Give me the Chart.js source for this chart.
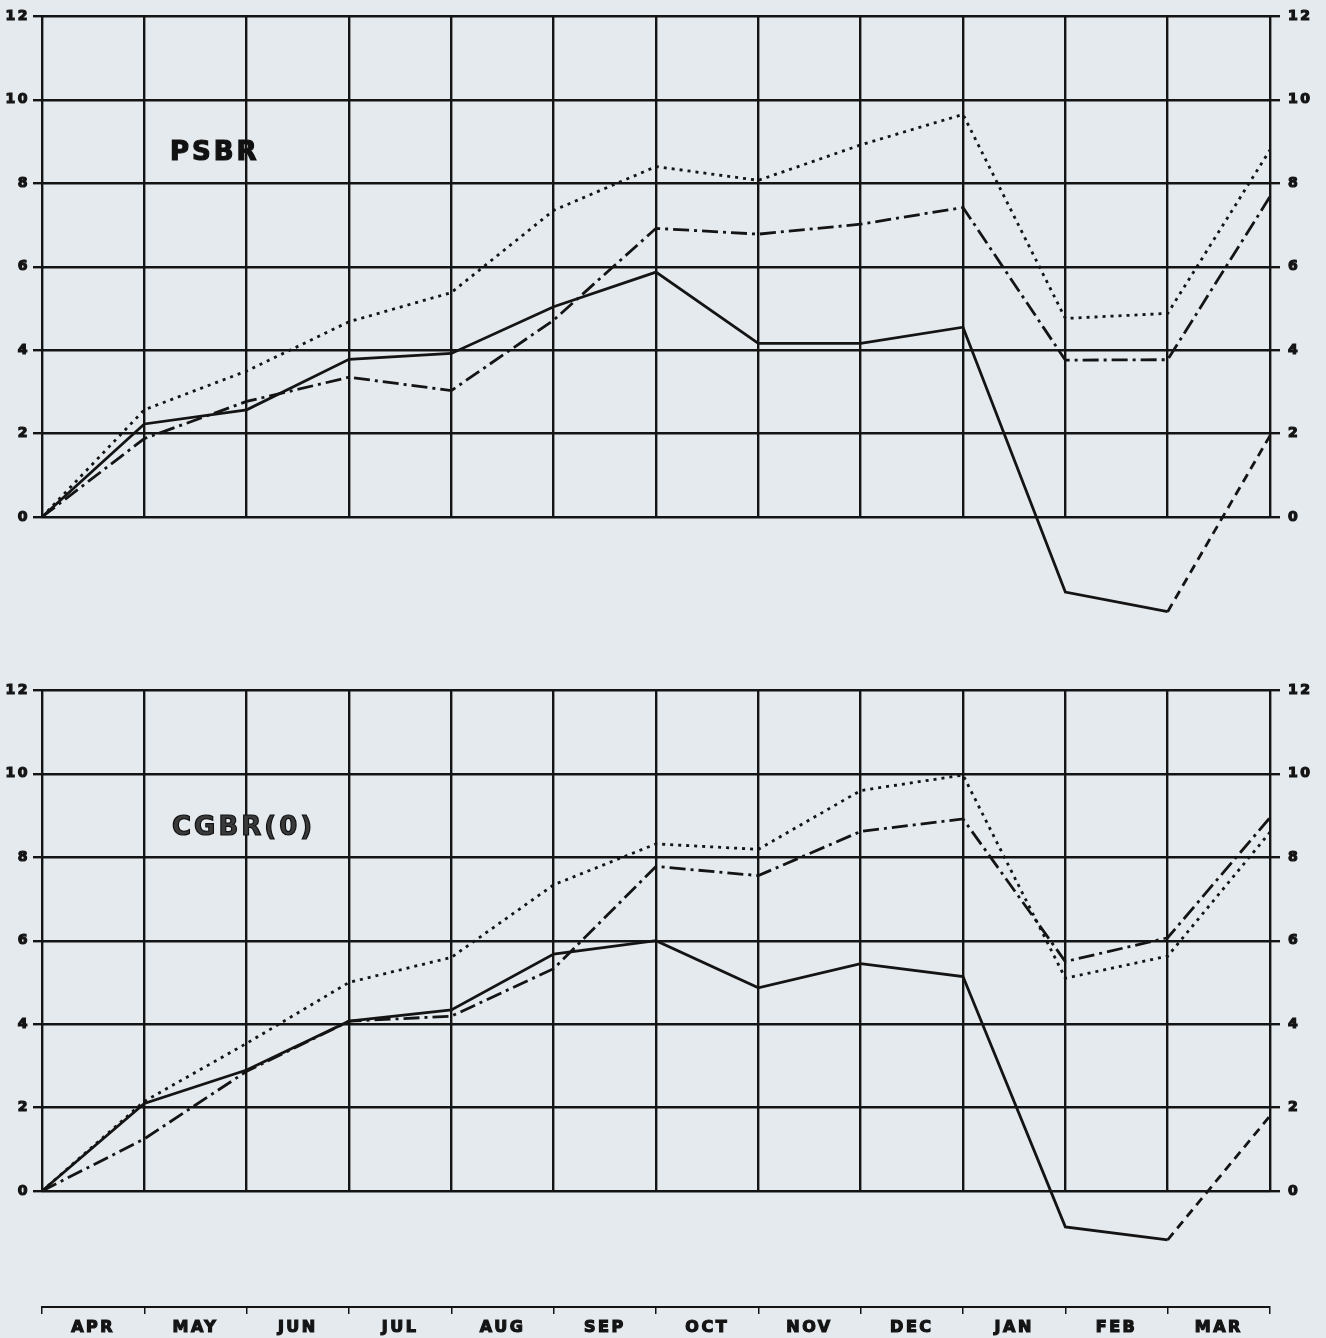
<!DOCTYPE html>
<html>
<head>
<meta charset="utf-8">
<script src="https://cdn.jsdelivr.net/npm/chart.js@4.4.1/dist/chart.umd.min.js"></script>
<style>
  html, body { margin: 0; padding: 0; background: #e4eaee; }
  #wrap { position: relative; width: 1326px; height: 1338px; overflow: hidden; background: #e4eaee; }
  .box { position: absolute; left: 0; width: 1326px; }
  .lbl { position: absolute; font-family: "DejaVu Sans", sans-serif; font-weight: bold; font-size: 26px;
         letter-spacing: 3px; color: #111; line-height: 1; -webkit-text-stroke: 1.2px #111; }
</style>
</head>
<body>
<div id="wrap">
  <div class="box" style="top:0px;height:620px;"><canvas id="c1"></canvas></div>
  <div class="box" style="top:674px;height:620px;"><canvas id="c2"></canvas></div>
  <div class="box" style="top:1290px;height:48px;"><canvas id="c3"></canvas></div>
  <div class="lbl" style="left:170px;top:138px;">PSBR</div>
  <div class="lbl" style="left:172px;top:813px;color:#3a3a3a;">CGBR(0)</div>
</div>
<script>
// ---- data ----
const months = ['APR','MAY','JUN','JUL','AUG','SEP','OCT','NOV','DEC','JAN','FEB','MAR'];
// month boundaries (start of APR ... end of MAR)
const boundaries = [0,1,2,3,4,5,6,7,8,9,10,11,12];
const yTickValues = [0,2,4,6,8,10,12];

const psbrSolid   = [0, 2.23, 2.57, 3.78, 3.92, 5.04, 5.87, 4.16, 4.16, 4.55, -1.80, -2.27, 1.95];
const psbrDashDot = [0, 1.88, 2.77, 3.35, 3.03, 4.72, 6.92, 6.78, 7.02, 7.42, 3.76, 3.77, 7.68];
const psbrDotted  = [0, 2.57, 3.50, 4.68, 5.38, 7.35, 8.40, 8.07, 8.92, 9.65, 4.76, 4.88, 8.80];

const cgbrSolid   = [0, 2.10, 2.90, 4.07, 4.34, 5.68, 6.00, 4.87, 5.45, 5.14, -0.86, -1.17, 1.80];
const cgbrDashDot = [0, 1.25, 2.87, 4.07, 4.19, 5.33, 7.78, 7.56, 8.62, 8.92, 5.50, 6.07, 8.95];
const cgbrDotted  = [0, 2.15, 3.54, 5.00, 5.60, 7.34, 8.32, 8.19, 9.60, 9.97, 5.10, 5.63, 8.60];

// ---- styling ----
const INK = '#141414';
const tickFont = { family: 'DejaVu Sans', weight: 'bold', size: 14 };
const monthFont = { family: 'DejaVu Sans', weight: 'bold', size: 16 };

function pts(arr) { return boundaries.map((x, i) => ({ x: x, y: arr[i] })); }

function spacing(px) {
  return { id: 'spacing' + px, beforeDraw(chart) { chart.ctx.letterSpacing = px + 'px'; } };
}

function panel(id, solid, dashdot, dotted) {
  return new Chart(document.getElementById(id), {
    type: 'line',
    data: {
      datasets: [
        { data: pts(dotted), borderColor: INK, borderWidth: 2.8, borderDash: [3, 5], clip: false,
          pointRadius: 0, tension: 0, borderCapStyle: 'butt' },
        { data: pts(dashdot), borderColor: INK, borderWidth: 2.8, borderDash: [16, 5, 3, 5], clip: false,
          pointRadius: 0, tension: 0, borderCapStyle: 'butt' },
        { data: pts(solid), borderColor: INK, borderWidth: 2.8, clip: false,
          pointRadius: 0, tension: 0, borderCapStyle: 'butt',
          segment: { borderDash: ctx => ctx.p1DataIndex === 12 ? [9, 6] : undefined } }
      ]
    },
    options: {
      responsive: true, maintainAspectRatio: false, animation: false,
      events: [],
      layout: { padding: { top: 15, bottom: 103, left: 0, right: 0 } },
      plugins: { legend: { display: false }, tooltip: { enabled: false } },
      scales: {
        x: {
          type: 'linear', min: 0, max: 12,
          afterBuildTicks: s => { s.ticks = boundaries.map(v => ({ value: v })); },
          ticks: { display: false },
          grid: { color: INK, lineWidth: 2.4, drawTicks: false },
          border: { display: false },
          afterFit: s => { s.height = 0; }
        },
        y: {
          position: 'left', min: 0, max: 12,
          afterBuildTicks: s => { s.ticks = yTickValues.map(v => ({ value: v })); },
          ticks: { font: tickFont, color: INK, padding: 3, textStrokeColor: INK, textStrokeWidth: 1.2 },
          grid: { color: INK, lineWidth: 2.4, tickLength: 9 },
          border: { display: false },
          afterFit: s => { s.width = 42; }
        },
        y2: {
          position: 'right', min: 0, max: 12,
          afterBuildTicks: s => { s.ticks = yTickValues.map(v => ({ value: v })); },
          ticks: { font: tickFont, color: INK, padding: 8, textStrokeColor: INK, textStrokeWidth: 1.2 },
          grid: { color: INK, lineWidth: 2.4, tickLength: 10, drawOnChartArea: false },
          border: { display: false },
          afterFit: s => { s.width = 56; }
        }
      }
    },
    plugins: [spacing(2.5)]
  });
}

panel('c1', psbrSolid, psbrDashDot, psbrDotted);
panel('c2', cgbrSolid, cgbrDashDot, cgbrDotted);

new Chart(document.getElementById('c3'), {
  type: 'line',
  data: { labels: months, datasets: [] },
  options: {
    responsive: true, maintainAspectRatio: false, animation: false,
    events: [],
    layout: { padding: { top: 0, bottom: 0, left: 42, right: 56 } },
    plugins: { legend: { display: false }, tooltip: { enabled: false } },
    scales: {
      x: {
        type: 'category', offset: true,
        ticks: { font: monthFont, color: INK, padding: 4, maxRotation: 0, autoSkip: false,
                 textStrokeColor: INK, textStrokeWidth: 1.2 },
        grid: { offset: true, drawOnChartArea: false, drawTicks: true, tickLength: 7, color: INK, lineWidth: 1.5 },
        border: { display: true, color: INK, width: 2 },
        afterFit: s => { s.height = 31; }
      },
      y: { display: false, min: 0, max: 1 }
    }
  },
  plugins: [spacing(2.5)]
});
</script>
</body>
</html>
